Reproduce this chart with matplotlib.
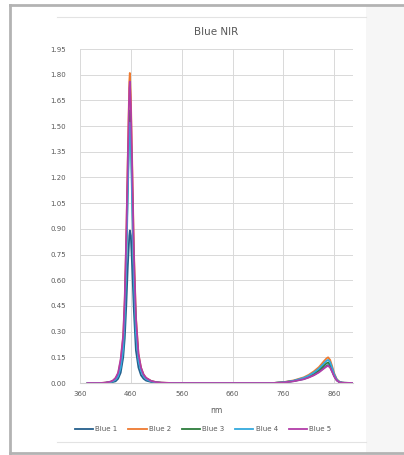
import matplotlib
matplotlib.use('Agg')
import matplotlib.pyplot as plt
from matplotlib.lines import Line2D
from matplotlib.patches import Rectangle

# wavelengths (nm) shared by all series
wl = [375, 400, 410, 420, 425, 430, 435, 440, 445, 448,
      451, 454, 457, 458, 460, 463, 466, 470, 475, 480,
      485, 490, 500, 510, 520, 540, 600, 700, 740, 760,
      780, 800, 810, 820, 830, 840, 845, 848, 852, 856,
      860, 865, 870, 875, 880, 897]

blue1 = [0, 0, 0.001, 0.003, 0.006, 0.01, 0.025, 0.06, 0.15, 0.26,
         0.45, 0.68, 0.86, 0.89, 0.86, 0.65, 0.42, 0.19, 0.09, 0.045,
         0.025, 0.014, 0.006, 0.002, 0.001, 0, 0, 0, 0, 0.003,
         0.011, 0.023, 0.034, 0.047, 0.065, 0.089, 0.1, 0.105, 0.095, 0.068,
         0.04, 0.016, 0.005, 0.002, 0.001, 0]
blue2 = [0, 0, 0.002, 0.007, 0.014, 0.028, 0.055, 0.13, 0.27, 0.48,
         0.84, 1.32, 1.76, 1.81, 1.67, 1.24, 0.78, 0.39, 0.17, 0.09,
         0.05, 0.03, 0.012, 0.005, 0.002, 0, 0, 0, 0, 0.005,
         0.015, 0.033, 0.048, 0.068, 0.093, 0.128, 0.144, 0.15, 0.135, 0.098,
         0.057, 0.023, 0.008, 0.002, 0.001, 0]
blue3 = [0, 0, 0.001, 0.006, 0.012, 0.024, 0.048, 0.11, 0.23, 0.42,
         0.74, 1.16, 1.54, 1.59, 1.47, 1.08, 0.67, 0.33, 0.15, 0.08,
         0.045, 0.026, 0.01, 0.004, 0.001, 0, 0, 0, 0, 0.004,
         0.012, 0.026, 0.038, 0.054, 0.074, 0.102, 0.115, 0.12, 0.108, 0.078,
         0.046, 0.018, 0.006, 0.002, 0.001, 0]
blue4 = [0, 0, 0.001, 0.005, 0.01, 0.02, 0.04, 0.09, 0.2, 0.38,
         0.68, 1.1, 1.47, 1.52, 1.4, 1.0, 0.6, 0.29, 0.13, 0.07,
         0.04, 0.022, 0.009, 0.003, 0.001, 0, 0, 0, 0, 0.004,
         0.013, 0.03, 0.043, 0.061, 0.084, 0.115, 0.13, 0.135, 0.122, 0.088,
         0.051, 0.02, 0.007, 0.002, 0.001, 0]
blue5 = [0, 0, 0.002, 0.008, 0.015, 0.03, 0.06, 0.14, 0.28, 0.5,
         0.85, 1.3, 1.72, 1.76, 1.62, 1.2, 0.75, 0.38, 0.17, 0.09,
         0.05, 0.03, 0.012, 0.005, 0.002, 0, 0, 0, 0, 0.003,
         0.01, 0.022, 0.032, 0.045, 0.062, 0.085, 0.096, 0.1, 0.09, 0.065,
         0.038, 0.015, 0.005, 0.0015, 0.001, 0]

names = ['Blue 1', 'Blue 2', 'Blue 3', 'Blue 4', 'Blue 5']
colors = ['#245F8C', '#EE7A30', '#2C7C3C', '#33A9DD', '#B23DA8']
xticks = [360, 460, 560, 660, 760, 860]
yticks = [0.0, 0.15, 0.30, 0.45, 0.60, 0.75, 0.90, 1.05, 1.20, 1.35,
          1.50, 1.65, 1.80, 1.95]

W, H = 404, 455
fig = plt.figure(figsize=(W / 100, H / 100), dpi=100)
fig.patch.set_facecolor('white')

# outer frame and background bits
fig.add_artist(Rectangle((366 / W, 0), 1 - 366 / W, 1 - 6 / H,
                         transform=fig.transFigure, color='#f6f6f6', lw=0))
fig.add_artist(Line2D([10 / W, 1], [1 - 5 / H] * 2, transform=fig.transFigure,
                      color='#b3b3b3', lw=2))
fig.add_artist(Line2D([10 / W] * 2, [1 - 5 / H, 1 - 453 / H], transform=fig.transFigure,
                      color='#b3b3b3', lw=2))
fig.add_artist(Line2D([10 / W, 1], [1 - 453 / H] * 2, transform=fig.transFigure,
                      color='#b3b3b3', lw=2))
for yy in (17, 442):
    fig.add_artist(Line2D([57 / W, 366 / W], [1 - yy / H] * 2, transform=fig.transFigure,
                          color='#e3e3e3', lw=0.8))

ax = fig.add_axes([80 / W, 1 - 383 / H, (353 - 80) / W, (383 - 49) / H])
for s, c, n in zip([blue1, blue2, blue3, blue4, blue5], colors, names):
    ax.plot(wl, s, color=c, lw=1.3, label=n)

ax.set_xlim(360, 897)
ax.set_ylim(0, 1.95)
ax.set_xticks(xticks)
ax.set_yticks(yticks)
ax.set_yticklabels(['%.2f' % v for v in yticks])
ax.grid(True, color='#d9d9d9', lw=0.7)
ax.set_axisbelow(True)
for sp in ['top', 'right', 'left']:
    ax.spines[sp].set_visible(False)
ax.spines['bottom'].set_color('#d0d0d0')
ax.spines['bottom'].set_linewidth(0.8)
ax.tick_params(length=0, labelsize=5, labelcolor='#595959')
ax.tick_params(axis='y', pad=10)
ax.tick_params(axis='x', pad=6)
ax.set_xlabel('nm', fontsize=5.5, color='#595959', labelpad=6)
ax.set_title('Blue NIR', fontsize=7.5, color='#595959', pad=10)

handles = [Line2D([0], [0], color=c, lw=1.3) for c in colors]
fig.legend(handles, names, loc='center', bbox_to_anchor=(203 / W, 1 - 429 / H),
           ncol=5, frameon=False, fontsize=5, labelcolor='#595959',
           handlelength=2.6, handletextpad=0.3, columnspacing=1.6)

fig.savefig('out.png', dpi=100, facecolor=fig.get_facecolor())
